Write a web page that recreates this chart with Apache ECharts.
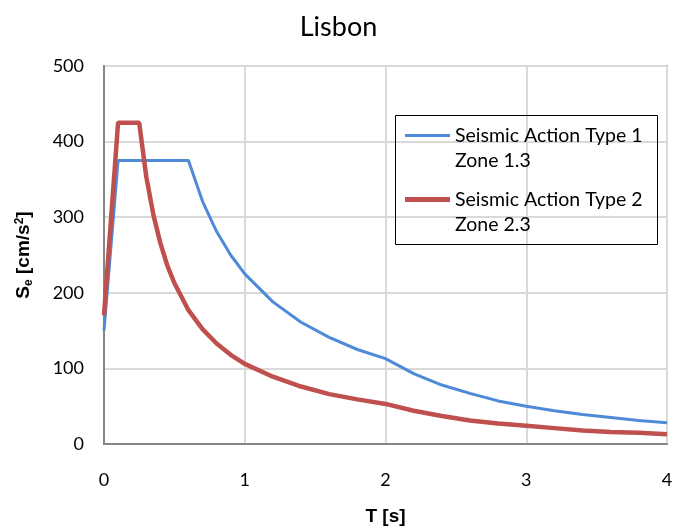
<!DOCTYPE html>
<html>
<head>
<meta charset="utf-8">
<script src="https://cdn.jsdelivr.net/npm/echarts@6/dist/echarts.min.js"></script>
<style>html,body{margin:0;padding:0;background:#fff}#c{width:677px;height:531px}</style>
</head>
<body>
<div id="c"></div>
<script>
const titleText = 'Lisbon';
const name1 = 'Seismic Action Type 1\nZone 1.3';
const name2 = 'Seismic Action Type 2\nZone 2.3';
const T1 = [0, 0.1, 0.6, 0.7, 0.8, 0.9, 1.0, 1.2, 1.4, 1.6, 1.8, 2.0, 2.2, 2.4, 2.6, 2.8, 3.0, 3.2, 3.4, 3.6, 3.8, 4.0];
const S1 = [150, 375, 375, 321, 281, 250, 225, 188, 161, 141, 125, 113, 93, 78, 67, 57, 50, 44, 39, 35, 31, 28];
const T2 = [0, 0.1, 0.25, 0.3, 0.35, 0.4, 0.45, 0.5, 0.6, 0.7, 0.8, 0.9, 1.0, 1.2, 1.4, 1.6, 1.8, 2.0, 2.2, 2.4, 2.6, 2.8, 3.0, 3.2, 3.4, 3.6, 3.8, 4.0];
const S2 = [170, 425, 425, 354, 304, 266, 236, 213, 177, 152, 133, 118, 106, 89, 76, 66, 59, 53, 44, 37, 31, 27, 24, 21, 18, 16, 15, 13];

const font = 'Lato, "Open Sans", sans-serif';
const boldFont = '"Liberation Sans", Arial, sans-serif';
const chart = echarts.init(document.getElementById('c'));
const legendText = {fontFamily: font, fontSize: 19.5, color: '#000', lineHeight: 25};
const legendFmt = n => ' \n' + n;
chart.setOption({
  animation: false,
  backgroundColor: '#fff',
  title: {text: titleText, left: 'center', top: 9, textStyle: {fontFamily: font, fontSize: 27, fontWeight: 'normal', color: '#000'}},
  grid: {left: 104, right: 10, top: 66, bottom: 77, show: true, borderColor: '#868686', borderWidth: 2},
  legend: [
    {data: [name1], left: 405, top: 98, padding: 0, icon: 'rect', itemWidth: 45, itemHeight: 3, formatter: legendFmt, textStyle: legendText},
    {data: [name2], left: 405, top: 162, padding: 0, icon: 'rect', itemWidth: 45, itemHeight: 5, formatter: legendFmt, textStyle: legendText}
  ],
  graphic: [{type: 'rect', shape: {x: 395.5, y: 115.5, width: 262, height: 129}, style: {fill: 'none', stroke: '#000', lineWidth: 1}, z: 100}],
  xAxis: {
    type: 'value', min: 0, max: 4, interval: 1,
    name: 'T [s]', nameLocation: 'middle', nameGap: 63,
    nameTextStyle: {fontFamily: boldFont, fontSize: 19, fontWeight: 'bold', color: '#000'},
    axisLine: {show: true, lineStyle: {color: '#868686', width: 2}},
    axisTick: {show: false},
    axisLabel: {fontFamily: font, fontSize: 18, color: '#000', margin: 27},
    splitLine: {show: true, lineStyle: {color: '#d9d9d9', width: 2}}
  },
  yAxis: {
    type: 'value', min: 0, max: 500, interval: 100,
    name: '{b|S}{sub|e}{b| [cm/s}{sup|2}{b|]}', nameLocation: 'middle', nameGap: 69, nameRotate: 90,
    nameTextStyle: {
      rich: {
        b: {fontFamily: boldFont, fontSize: 19, fontWeight: 'bold', color: '#000', lineHeight: 22},
        sub: {fontFamily: boldFont, fontSize: 12, fontWeight: 'bold', color: '#000', lineHeight: 12, padding: [10, 0, 0, 0]},
        sup: {fontFamily: boldFont, fontSize: 12, fontWeight: 'bold', color: '#000', lineHeight: 12, padding: [0, 0, 9, 0]}
      }
    },
    axisLine: {show: true, lineStyle: {color: '#868686', width: 2}},
    axisTick: {show: false},
    axisLabel: {fontFamily: font, fontSize: 18, color: '#000', margin: 20},
    splitLine: {show: true, lineStyle: {color: '#d9d9d9', width: 2}}
  },
  series: [
    {name: name1, type: 'line', showSymbol: false, data: T1.map((t, i) => [t, S1[i]]),
     lineStyle: {color: '#4f8ad8', width: 3}, itemStyle: {color: '#4f8ad8'}, z: 2},
    {name: name2, type: 'line', showSymbol: false, data: T2.map((t, i) => [t, S2[i]]),
     lineStyle: {color: '#c0504d', width: 4.5}, itemStyle: {color: '#c0504d'}, z: 3}
  ]
});
</script>
</body>
</html>
